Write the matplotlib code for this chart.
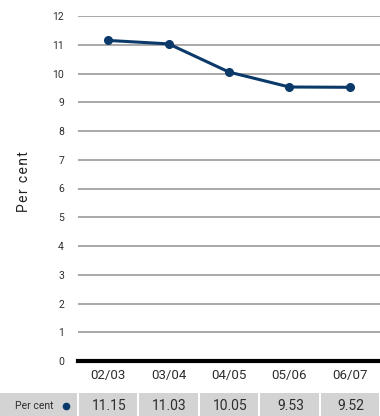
import matplotlib.pyplot as plt
from matplotlib.patches import Rectangle

years = ["02/03", "03/04", "04/05", "05/06", "06/07"]
per_cent = [11.15, 11.03, 10.05, 9.53, 9.52]
y_ticks = list(range(0, 13))

plt.rcParams["font.family"] = ["Roboto", "DejaVu Sans"]

navy = "#0b3a6a"
grid_grey = "#a8a8a8"
cell_grey = "#d3d3d3"
text_col = "#2e2e2e"

fig = plt.figure(figsize=(3.8, 4.16), dpi=100)
ax = fig.add_axes([78 / 380, 1 - 361 / 416, 302 / 380, 345 / 416])

x = list(range(len(years)))
ax.plot(x, per_cent, color=navy, lw=2.2, marker="o", ms=5.5, zorder=3, clip_on=False)

ax.set_xlim(-0.5, len(years) - 0.5)
ax.set_ylim(0, 12)
ax.set_yticks(y_ticks)
ax.set_yticklabels([str(t) for t in y_ticks], fontsize=7.5, color=text_col)
ax.tick_params(axis="y", length=0, pad=10)
ax.set_xticks(x)
ax.set_xticklabels(years, fontsize=9.5, color=text_col)
ax.tick_params(axis="x", length=0, pad=6)
for t in y_ticks[1:]:
    ax.axhline(t, color=grid_grey, lw=1.4, zorder=1)
ax.axhline(0, color="black", lw=3, zorder=2, clip_on=False)
for s in ax.spines.values():
    s.set_visible(False)
# letter-spaced axis label, as in the original
ax.set_ylabel("\u200a".join("Per cent"), fontsize=10, color="#222222")
ax.yaxis.set_label_coords(-(78 - 31) / 302, 0.52)

# data table row under the chart
tab = fig.add_axes([0, 0, 1, 23 / 416])
tab.set_xlim(0, 380)
tab.set_ylim(0, 1)
tab.axis("off")
tab.add_patch(Rectangle((0, 0), 77, 1, color=cell_grey, lw=0))
tab.text(34, 0.45, "Per cent", fontsize=7.5, color=text_col, ha="center", va="center")
tab.plot([66], [0.45], "o", color=navy, ms=4.5)
step = 302 / len(years)
for i, v in enumerate(per_cent):
    left = 78 + i * step + 1
    tab.add_patch(Rectangle((left, 0), step - 2, 1, color=cell_grey, lw=0))
    tab.text(left + step / 2, 0.42, f"{v:.2f}", fontsize=10, color=text_col,
             ha="center", va="center")

fig.savefig("out.png", dpi=100)
